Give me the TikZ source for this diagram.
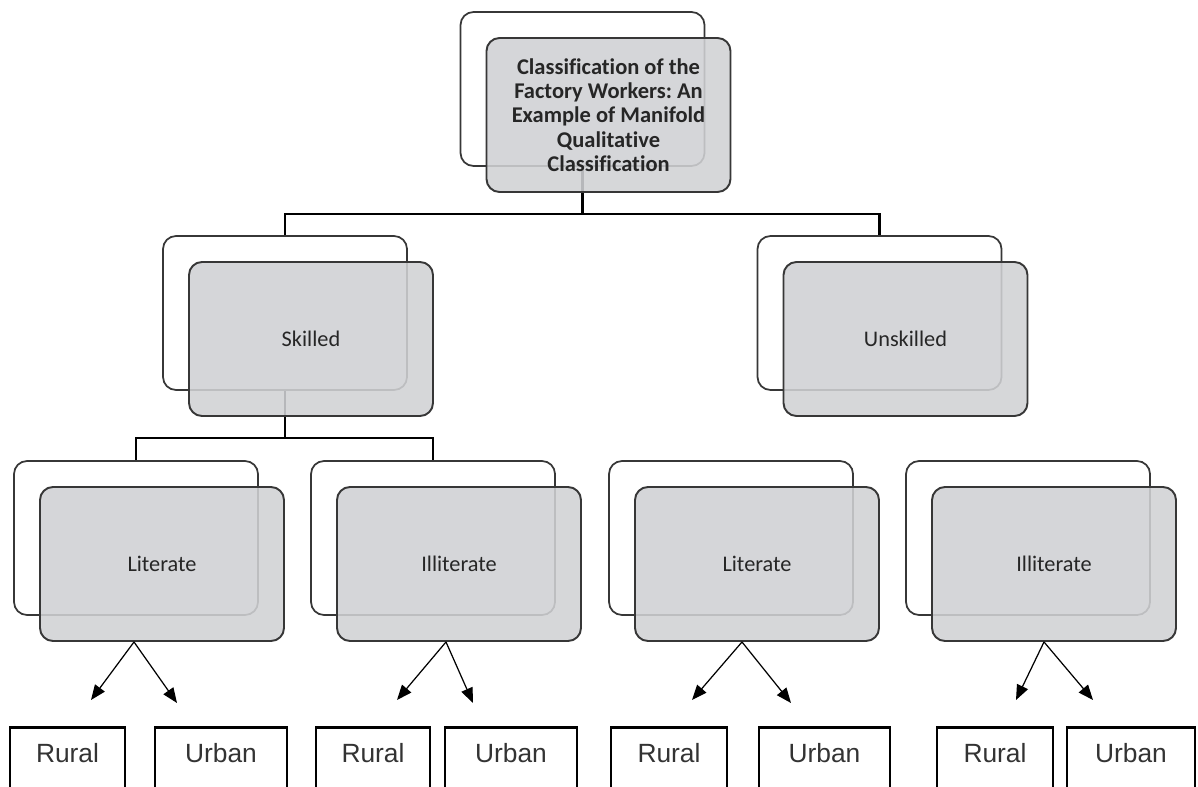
\documentclass[tikz,border=0pt]{standalone}
\usepackage{fontspec}
\setmainfont{Carlito}[Ligatures=NoCommon]
\newfontfamily\arialfont{Liberation Sans}
\usepackage{xcolor}
\usetikzlibrary{arrows.meta}
\frenchspacing
\definecolor{cardgray}{RGB}{208,209,212}
\definecolor{cardline}{RGB}{55,55,55}
\tikzstyle{backcard} = [rectangle, rounded corners=0.26cm, minimum width=4.88cm, minimum height=3.08cm, draw=cardline, line width=1pt, fill=white]
\tikzstyle{frontcard} = [rectangle, rounded corners=0.26cm, minimum width=4.88cm, minimum height=3.08cm, draw=cardline, line width=1.1pt, fill=cardgray, fill opacity=0.88, text opacity=1, text=black!85, align=center, font=\fontsize{12.7}{13.8}\selectfont]
\tikzstyle{place} = [rectangle, anchor=north, draw=black, line width=1.6pt, inner xsep=0pt, inner ysep=0.32cm, text height=0.38cm, text depth=1.5cm, text=black!80, font=\arialfont\fontsize{15}{17}\selectfont]
\tikzstyle{link} = [line width=1.4pt]
\tikzstyle{arrow} = [line width=0.7pt, -{Triangle[length=0.3cm, width=0.24cm]}]

\begin{document}
\begin{tikzpicture}

\useasboundingbox (0,0) rectangle (23.96,-15.74);
\clip (0,0) rectangle (23.96,-15.74);

% Back cards
\node (topB) [backcard] at (11.65,-1.78) {};
\node (skB) [backcard] at (5.70,-6.26) {};
\node (unskB) [backcard] at (17.59,-6.26) {};
\node (lit1B) [backcard] at (2.72,-10.76) {};
\node (ill1B) [backcard] at (8.66,-10.76) {};
\node (lit2B) [backcard] at (14.62,-10.76) {};
\node (ill2B) [backcard] at (20.56,-10.76) {};

% Connectors
\draw [link] (topB.south) -- ++(0,-0.94) -| (skB.north);
\draw [link] (topB.south) -- ++(0,-0.94) -| (unskB.north);
\draw [link] (skB.south) -- ++(0,-0.94) -| (lit1B.north);
\draw [link] (skB.south) -- ++(0,-0.94) -| (ill1B.north);

% Front cards
\node (top) [frontcard, xshift=0.52cm, yshift=-0.52cm, font=\bfseries\fontsize{12.8}{13.8}\selectfont] at (topB) {Classification of the\\Factory Workers: An\\Example of Manifold\\Qualitative\\Classification};
\node (sk) [frontcard, xshift=0.52cm, yshift=-0.52cm] at (skB) {Skilled};
\node (unsk) [frontcard, xshift=0.52cm, yshift=-0.52cm] at (unskB) {Unskilled};
\node (lit1) [frontcard, xshift=0.52cm, yshift=-0.52cm] at (lit1B) {Literate};
\node (ill1) [frontcard, xshift=0.52cm, yshift=-0.52cm] at (ill1B) {Illiterate};
\node (lit2) [frontcard, xshift=0.52cm, yshift=-0.52cm] at (lit2B) {Literate};
\node (ill2) [frontcard, xshift=0.52cm, yshift=-0.52cm] at (ill2B) {Illiterate};

% Bottom row
\node (r1) [place, minimum width=2.30cm] at (1.35,-14.52) {Rural};
\node (u1) [place, minimum width=2.64cm] at (4.42,-14.52) {Urban};
\node (r2) [place, minimum width=2.28cm] at (7.46,-14.52) {Rural};
\node (u2) [place, minimum width=2.64cm] at (10.22,-14.52) {Urban};
\node (r3) [place, minimum width=2.32cm] at (13.38,-14.52) {Rural};
\node (u3) [place, minimum width=2.62cm] at (16.49,-14.52) {Urban};
\node (r4) [place, minimum width=2.32cm] at (19.90,-14.52) {Rural};
\node (u4) [place, minimum width=2.56cm] at (22.62,-14.52) {Urban};

% Arrow ends
\coordinate (t1) at (1.82,-14.00);
\coordinate (t2) at (3.54,-14.06);
\coordinate (t3) at (7.94,-14.00);
\coordinate (t4) at (9.46,-14.06);
\coordinate (t5) at (13.84,-14.00);
\coordinate (t6) at (15.82,-14.06);
\coordinate (t7) at (20.32,-14.00);
\coordinate (t8) at (21.86,-14.00);

% Drawing arrows
\draw [arrow] ([xshift=-0.56cm]lit1.south) -- (t1);
\draw [arrow] ([xshift=-0.56cm]lit1.south) -- (t2);
\draw [arrow] ([xshift=-0.26cm]ill1.south) -- (t3);
\draw [arrow] ([xshift=-0.26cm]ill1.south) -- (t4);
\draw [arrow] ([xshift=-0.30cm]lit2.south) -- (t5);
\draw [arrow] ([xshift=-0.30cm]lit2.south) -- (t6);
\draw [arrow] ([xshift=-0.20cm]ill2.south) -- (t7);
\draw [arrow] ([xshift=-0.20cm]ill2.south) -- (t8);

\end{tikzpicture}
\end{document}
